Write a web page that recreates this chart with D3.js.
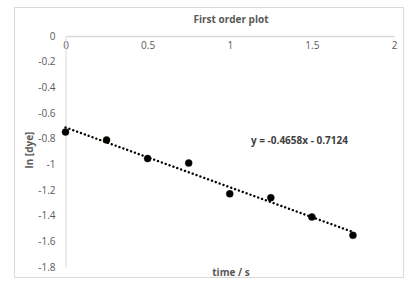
<!DOCTYPE html>
<html>
<head>
<meta charset="utf-8">
<script src="https://unpkg.com/d3@7/dist/d3.min.js"></script>
<style>
  body { margin: 0; background: #fff; }
  text { font-family: "Open Sans", "Liberation Sans", sans-serif; }
</style>
</head>
<body>
<script>
// data
const times = [0, 0.25, 0.5, 0.75, 1.0, 1.25, 1.5, 1.75];
const lnDye = [-0.748, -0.81, -0.955, -0.99, -1.23, -1.26, -1.41, -1.553];
const xTicks = [0, 0.5, 1, 1.5, 2];
const yTicks = [0, -0.2, -0.4, -0.6, -0.8, -1, -1.2, -1.4, -1.6, -1.8];
const slope = -0.4658;
const intercept = -0.7124;

const w = 418, h = 297;
const plotLeft = 65.5, plotRight = 394, plotTop = 36, plotBottom = 267;

const svg = d3.select("body").append("svg").attr("width", w).attr("height", h);

// chart border
svg.append("rect")
  .attr("x", 14.5).attr("y", 7.5)
  .attr("width", 389).attr("height", 270)
  .attr("fill", "#fff").attr("stroke", "#d9d9d9");

const x = d3.scaleLinear().domain([0, 2]).range([plotLeft, plotRight]);
const y = d3.scaleLinear().domain([-1.8, 0]).range([plotBottom, plotTop]);

// axes (plain hyphen minus like excel)
const fmt = (d) => String(d);
const xAxis = svg.append("g")
  .attr("transform", `translate(0,${y(0)})`)
  .call(d3.axisBottom(x).tickValues(xTicks).tickSize(0).tickPadding(6).tickFormat(fmt));
xAxis.select(".domain").attr("stroke", "#d9d9d9").attr("stroke-width", 1.5);

const yAxis = svg.append("g")
  .attr("transform", `translate(${x(0)},0)`)
  .call(d3.axisLeft(y).tickValues(yTicks).tickSize(0).tickPadding(10).tickFormat(fmt));
yAxis.select(".domain").attr("stroke", "#d9d9d9").attr("stroke-width", 1);

svg.selectAll(".tick text")
  .attr("fill", "#595959")
  .style("font-size", "10px");

// title + axis titles
svg.append("text")
  .attr("x", 231).attr("y", 23)
  .attr("text-anchor", "middle")
  .attr("fill", "#595959")
  .style("font-size", "10px").style("font-weight", "bold")
  .text("First order plot");

svg.append("text")
  .attr("x", 231).attr("y", 276)
  .attr("text-anchor", "middle")
  .attr("fill", "#595959")
  .style("font-size", "10px").style("font-weight", "bold")
  .text("time / s");

svg.append("text")
  .attr("transform", "translate(33,150) rotate(-90)")
  .attr("text-anchor", "middle")
  .attr("fill", "#595959")
  .style("font-size", "10px").style("font-weight", "bold")
  .text("ln [dye]");

// trendline
const tx = [0, d3.max(times)];
svg.append("line")
  .attr("x1", x(tx[0])).attr("y1", y(slope * tx[0] + intercept))
  .attr("x2", x(tx[1])).attr("y2", y(slope * tx[1] + intercept))
  .attr("stroke", "#000")
  .attr("stroke-width", 2.4)
  .attr("stroke-linecap", "round")
  .attr("stroke-dasharray", "0.1 4");

// points
svg.selectAll("circle.pt")
  .data(times)
  .enter()
  .append("circle")
  .attr("class", "pt")
  .attr("cx", (d) => x(d))
  .attr("cy", (d, i) => y(lnDye[i]))
  .attr("r", 3.5)
  .attr("fill", "#000")
  .attr("stroke", "#1a1200")
  .attr("stroke-width", 0.5);

// equation label
svg.append("text")
  .attr("x", 251).attr("y", 144)
  .attr("fill", "#404040")
  .style("font-size", "10px").style("font-weight", "bold")
  .text(`y = ${slope}x - ${Math.abs(intercept)}`);
</script>
</body>
</html>
